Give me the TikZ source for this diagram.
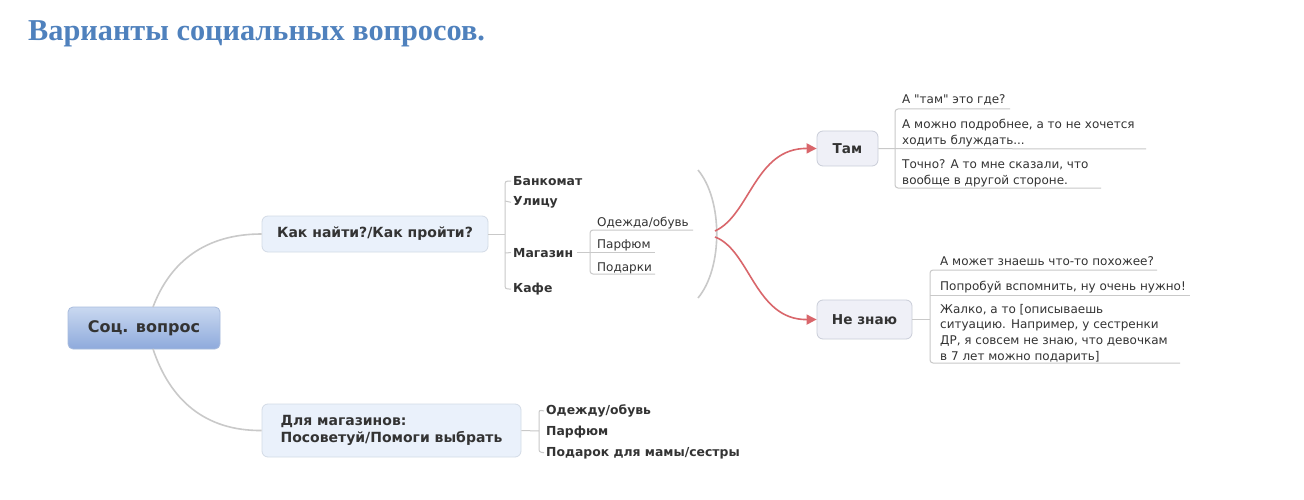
\documentclass[tikz,border=0pt]{standalone}
\usepackage{fontspec}
\setmainfont{DejaVu Sans}
\newfontfamily\vfont{DejaVu Sans}
\newfontfamily\titlefont{Liberation Serif}
\usetikzlibrary{arrows.meta}
\definecolor{titleblue}{HTML}{4F81BD}
\definecolor{txt}{HTML}{333333}
\definecolor{linegray}{HTML}{C9C9C9}
\definecolor{rootTop}{HTML}{C9D8F0}
\definecolor{rootBot}{HTML}{8EAADC}
\definecolor{rootDraw}{HTML}{A9BCDD}
\definecolor{qFill}{HTML}{EAF1FB}
\definecolor{qDraw}{HTML}{D3DBE6}
\definecolor{aFill}{HTML}{EFF0F7}
\definecolor{aDraw}{HTML}{C9CDD8}
\definecolor{redarrow}{HTML}{D9666B}
\tikzset{
  conn/.style={draw=linegray, line width=1pt},
  rootconn/.style={draw=linegray, line width=1.6pt},
  redconn/.style={draw=redarrow, line width=1.6pt, -{Triangle[width=10pt,length=10pt]}},
  item/.style={anchor=base west, inner sep=0pt, text=txt, align=left,
    font=\vfont\fontsize{12}{16}\selectfont},
  bitem/.style={item, font=\vfont\bfseries\fontsize{12.4}{16}\selectfont},
  rootbox/.style={rounded corners=5pt, draw=rootDraw, line width=0.8pt,
    top color=rootTop, bottom color=rootBot, text=txt,
    font=\vfont\bfseries\fontsize{16}{18}\selectfont},
  qbox/.style={rounded corners=6pt, draw=qDraw, line width=0.8pt, fill=qFill,
    text=txt, font=\vfont\bfseries\fontsize{14}{16.5}\selectfont},
  abox/.style={rounded corners=6pt, draw=aDraw, line width=0.8pt, fill=aFill,
    text=txt, font=\vfont\bfseries\fontsize{13.6}{16}\selectfont},
}
\begin{document}
\begin{tikzpicture}[x=1pt,y=-1pt]
\useasboundingbox[fill=white] (0,0) rectangle (1304,500);
% title
\node[anchor=base west, inner sep=0pt, text=titleblue,
  font=\titlefont\bfseries\fontsize{30.3}{32}\selectfont] (title) at (28,41)
  {Варианты социальных вопросов.};
% main nodes
\node[rootbox, minimum width=152pt, minimum height=42pt] (root) at (144,328) {Соц. вопрос};
\node[qbox, minimum width=226pt, minimum height=36pt] (q1) at (375,234) {Как найти?/Как пройти?};
\node[qbox, minimum width=259pt, minimum height=53pt, align=left] (q2) at (391.5,430.5)
  {Для магазинов:\\Посоветуй/Помоги выбрать};
\node[abox, minimum width=61pt, minimum height=35pt] (tam) at (847.5,148.5) {Там};
\node[abox, minimum width=95pt, minimum height=39pt] (nz) at (864.5,319.5) {Не знаю};
% root connectors
\coordinate (rt) at (153,307);
\coordinate (rb) at (153,349);
\draw[rootconn] (rt) .. controls (170,262) and (205,234) .. (q1.west);
\draw[rootconn] (rb) .. controls (170,400) and (205,431) .. (q2.west);
% q1 items
\node[bitem] (bank) at (513,185.5) {Банкомат};
\node[bitem] (ul) at (513,205.5) {Улицу};
\node[bitem] (mag) at (513,257) {Магазин};
\node[bitem] (kafe) at (513,292.5) {Кафе};
\coordinate (b1) at (505,234);
\draw[conn] (q1.east) -- (b1);
\draw[conn] ([xshift=-2pt]bank.west) .. controls (505,181) .. (505,187) -- (505,283)
  .. controls (505,289) .. ([xshift=-2pt]kafe.west);
\draw[conn] (505,201) -- ([xshift=-2pt]ul.west);
\draw[conn] (505,253) -- ([xshift=-2pt]mag.west);
% Magazin sub items
\node[item] (od) at (597,226) {Одежда/обувь};
\node[item] (parf) at (597,248.5) {Парфюм};
\node[item] (pod) at (597,271) {Подарки};
\coordinate (odu) at (693,230);
\coordinate (pau) at (655,252);
\coordinate (pou) at (655,274);
\draw[conn] ([xshift=4pt]mag.east |- pau) -- (pau);
\draw[conn, rounded corners=3pt] (odu) -- (590,230) -- (590,274) -- (pou);
% big paren
\coordinate (pt) at (698,170);
\coordinate (pb) at (698,298);
\draw[draw=linegray, line width=1.6pt] (pt) .. controls (723,200) and (723,268) .. (pb);
% red arrows
\coordinate (ra) at (715,231);
\coordinate (rb2) at (715,237);
\draw[redconn] (ra) .. controls (750,215) and (755,148) .. (tam.west);
\draw[redconn] (rb2) .. controls (750,250) and (755,320) .. (nz.west);
% Tam children (anchor = baseline of last line)
\node[item] (t1) at (902,104) {А "там" это где?};
\node[item] (t2) at (902,144.5) {А можно подробнее, а то не хочется\\ходить блуждать...};
\node[item] (t3) at (902,184) {Точно? А то мне сказали, что\\вообще в другой стороне.};
\coordinate (t1u) at (1010,109);
\coordinate (t2u) at (1146,149);
\coordinate (t3u) at (1101,188);
\draw[conn] (tam.east) -- (t2u);
\draw[conn, rounded corners=3pt] (t1u) -- (895,109) -- (895,188) -- (t3u);
% Ne znayu children
\node[item] (n1) at (940,265) {А может знаешь что-то похожее?};
\node[item] (n2) at (940,290) {Попробуй вспомнить, ну очень нужно!};
\node[item, font=\vfont\fontsize{12}{15.6}\selectfont] (n3) at (940,360)
  {Жалко, а то [описываешь\\ситуацию. Например, у сестренки\\ДР, я совсем не знаю, что девочкам\\в 7 лет можно подарить]};
\coordinate (n1u) at (1157,270);
\coordinate (n2u) at (1190,295);
\coordinate (n3u) at (1180,363);
\draw[conn] (nz.east) -- (930,319.5);
\draw[conn] (930,295) -- (n2u);
\draw[conn, rounded corners=3pt] (n1u) -- (930,270) -- (930,363) -- (n3u);
% q2 items
\node[bitem] (s1) at (546,414.5) {Одежду/обувь};
\node[bitem] (s2) at (546,435.5) {Парфюм};
\node[bitem] (s3) at (546,456) {Подарок для мамы/сестры};
\coordinate (b2) at (539,431);
\draw[conn] (q2.east) -- (b2);
\draw[conn] ([xshift=-2pt]s1.west) .. controls (539,410) .. (539,415) -- (539,447)
  .. controls (539,452) .. ([xshift=-2pt]s3.west);
\end{tikzpicture}
\end{document}
